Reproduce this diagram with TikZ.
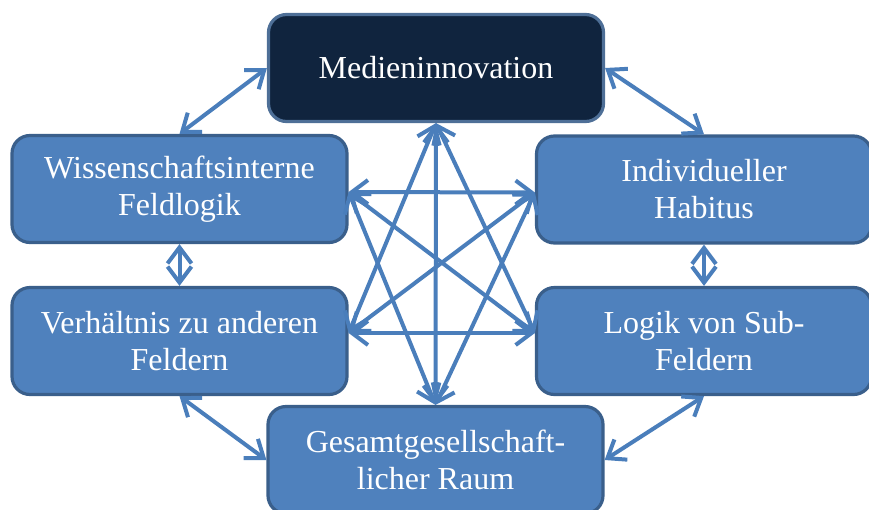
\documentclass[tikz,border=0pt]{standalone}
\usepackage{fontspec}
\setmainfont{Liberation Serif}
\usetikzlibrary{arrows.meta}

\definecolor{boxfill}{HTML}{4F81BD}
\definecolor{boxline}{HTML}{3A5F8B}
\definecolor{topfill}{HTML}{10243E}
\definecolor{linkblue}{HTML}{4A7EBB}

\tikzset{
  box/.style={draw=boxline, line width=3.2pt, fill=boxfill, rounded corners=18pt,
    minimum width=335pt, minimum height=107pt, inner sep=0pt, align=center,
    text=white, font=\fontsize{32}{37}\selectfont},
  topbox/.style={box, fill=topfill, draw=boxline!90!white},
  link/.style={draw=linkblue, line width=4pt, {Straight Barb[length=16pt,width=24pt]}-{Straight Barb[length=16pt,width=24pt]}}
}

\begin{document}
\begin{tikzpicture}[x=1pt, y=-1pt]
  \clip (0,0) rectangle (869,509);
  \node[topbox] (medien) at (436,68) {Medieninnovation};
  \node[box] (feld) at (179.5,189) {Wissenschaftsinterne\\Feldlogik};
  \node[box] (habitus) at (704,189.5) {Individueller\\Habitus};
  \node[box] (andere) at (179.5,341) {Verhältnis zu anderen\\Feldern};
  \node[box] (sub) at (704,341) {Logik von Sub-\\Feldern};
  \node[box] (raum) at (435.5,460) {Gesamtgesellschaft-\\licher Raum};
  % outer ring
  \draw[link] (feld.north) -- (medien.west);
  \draw[link] (habitus.north) -- (medien.east);
  \draw[link] (feld.south) -- (andere.north);
  \draw[link] (habitus.south) -- (sub.north);
  \draw[link] (andere.south) -- (raum.west);
  \draw[link] (sub.south) -- (raum.east);
  % inner star
  \draw[link] (medien.south) -- (raum.north);
  \draw[link] (medien.south) -- ([yshift=8pt]andere.east);
  \draw[link] (medien.south) -- ([yshift=8pt]sub.west);
  \draw[link] (raum.north) -- ([yshift=-3pt]feld.east);
  \draw[link] (raum.north) -- ([yshift=-3pt]habitus.west);
  \draw[link] ([yshift=-3pt]feld.east) -- ([yshift=-3pt]habitus.west);
  \draw[link] ([yshift=8pt]andere.east) -- ([yshift=8pt]sub.west);
  \draw[link] ([yshift=-3pt]feld.east) -- ([yshift=8pt]sub.west);
  \draw[link] ([yshift=-3pt]habitus.west) -- ([yshift=8pt]andere.east);
\end{tikzpicture}
\end{document}
